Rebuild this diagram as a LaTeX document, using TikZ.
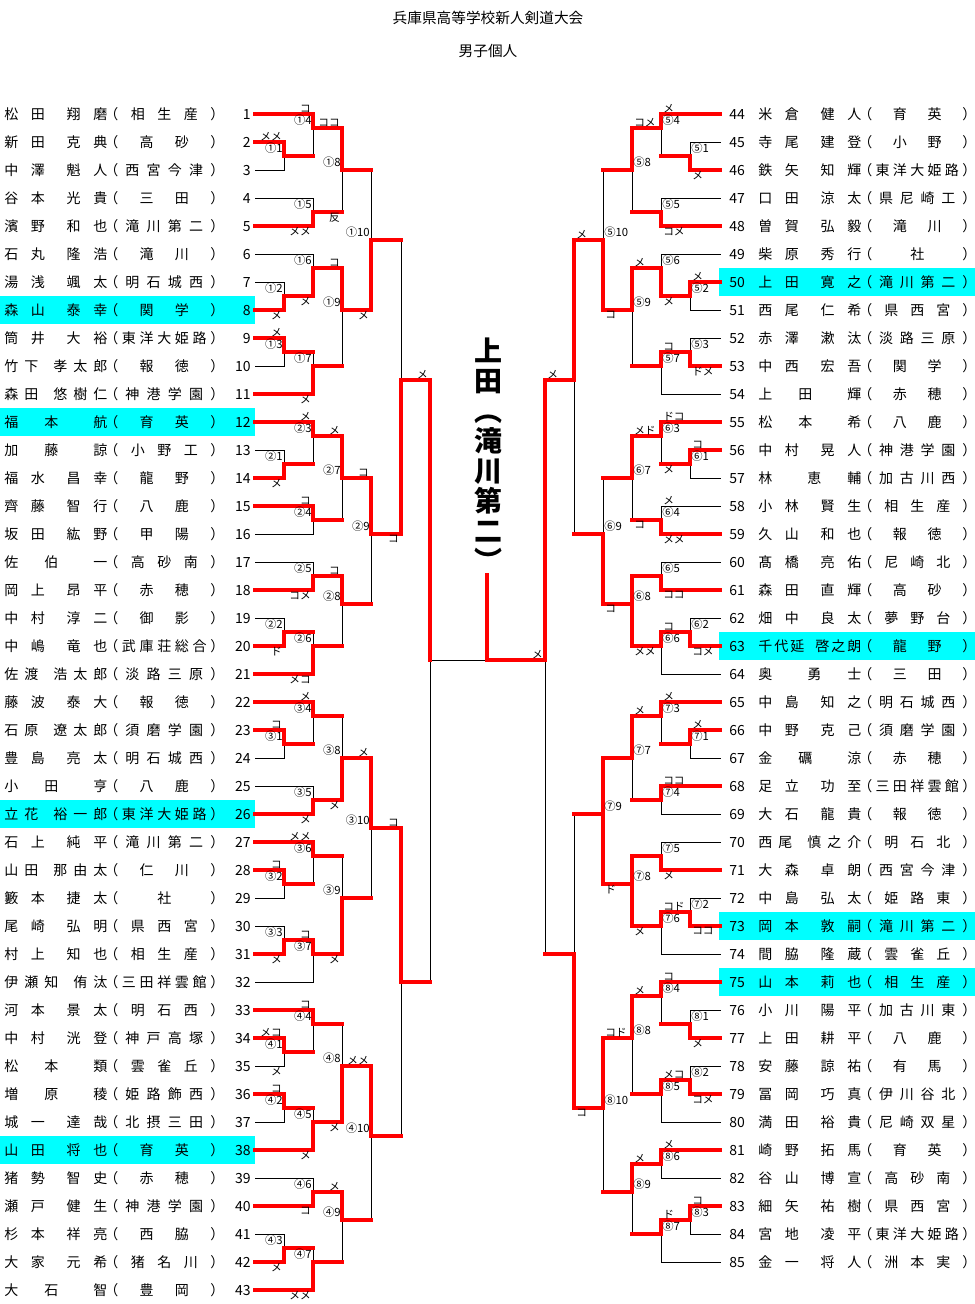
\documentclass[tikz,border=0pt]{standalone}
\usepackage{fontspec}
\setmainfont{Noto Sans CJK JP}
\definecolor{hl}{RGB}{0,255,255}
\definecolor{rd}{RGB}{255,0,0}
\newdimen\PX \PX=0.75pt
\newcount\nc
\def\schw{92}
\def\spr#1{\sprA#1\relax}
\def\sprA#1{#1\sprB}
\def\sprB#1{\ifx\relax#1\else\hfill#1\expandafter\sprB\fi}
\newcommand\namebox[2]{\makebox[103\PX][s]{\spr{#1}\hfill\hspace*{9\PX}\spr{#2}}}
\newcommand\schoolbox[1]{\kern-3\PX\makebox[14\PX][l]{（}\makebox[\schw\PX][s]{\hfill\spr{#1}\hfill}\makebox[6\PX][l]{）}}
\tikzset{
  nm/.style={font=\fontsize{10.5}{12}\selectfont, inner sep=0pt},
  num/.style={font=\fontsize{8.5}{9}\selectfont, inner sep=0pt},
  sc/.style={font=\fontsize{8}{8}\selectfont, inner sep=0pt},
  lk/.style={black, line width=0.75pt, line cap=rect},
  lr/.style={rd, line width=3pt, line cap=rect},
}
\newcommand\nn{\global\advance\nc by 1 }
\newcommand\pL[4]{%
  \node[nm,anchor=base west] (p#1) at (4,{114+28*(#1-1)+5}) {\namebox{#2}{#3}\schoolbox{#4}};
  \node[nm,anchor=base east] (q#1) at (251,{114+28*(#1-1)+5}) {#1};}
\newcommand\pR[4]{%
  \node[nm,anchor=base west] (p#1) at (758,{114+28*(#1-44)+5}) {\def\schw{90}\namebox{#2}{#3}\schoolbox{#4}};
  \node[nm,anchor=base west] (q#1) at (729,{114+28*(#1-44)+5}) {#1};}
\newcommand\Ln[3]{\nn\node[num,anchor=east] (lb\the\nc) at ({#1-1},{#2-8}) {#3};}
\newcommand\Lt[3]{\nn\node[sc,anchor=south east] (lb\the\nc) at ({#1-2},{#2-1}) {#3};}
\newcommand\Lb[3]{\nn\node[sc,anchor=north east] (lb\the\nc) at ({#1-2},{#2+1}) {#3};}
\newcommand\Rn[3]{\nn\node[num,anchor=west] (lb\the\nc) at ({#1+1},{#2-8}) {#3};}
\newcommand\Rt[3]{\nn\node[sc,anchor=south west] (lb\the\nc) at ({#1+2},{#2-1}) {#3};}
\newcommand\Rb[3]{\nn\node[sc,anchor=north west] (lb\the\nc) at ({#1+2},{#2+1}) {#3};}
\newcommand\seg[3]{\if#1\pass\draw[l#1] #2 -- #3;\fi}
\newcommand\M[9]{%
  \seg{#3}{(#1,#2)}{(#7,#2)}%
  \seg{#6}{(#4,#5)}{(#7,#5)}%
  \if#9t\seg{r}{(#7,#2)}{(#7,#8)}\seg{k}{(#7,#8)}{(#7,#5)}\fi
  \if#9b\seg{k}{(#7,#2)}{(#7,#8)}\seg{r}{(#7,#8)}{(#7,#5)}\fi
  \if#9a\seg{r}{(#7,#2)}{(#7,#5)}\fi}
\newcommand\bracket{%
  % block 1
  \M{255}{142}{r}{255}{170}{k}{284}{156}{t}
  \M{255}{114}{r}{284}{156}{r}{313}{128}{t}
  \M{255}{198}{k}{255}{226}{r}{313}{212}{b}
  \M{313}{128}{r}{313}{212}{r}{342}{170}{t}
  \M{255}{282}{k}{255}{310}{r}{284}{296}{b}
  \M{255}{254}{k}{284}{296}{r}{313}{268}{b}
  \M{255}{338}{r}{255}{366}{k}{284}{352}{t}
  \M{284}{352}{r}{255}{394}{r}{313}{366}{b}
  \M{313}{268}{r}{313}{366}{r}{342}{310}{t}
  \M{342}{170}{r}{342}{310}{r}{371}{240}{b}
  % block 2
  \M{255}{450}{k}{255}{478}{r}{284}{464}{b}
  \M{255}{422}{r}{284}{464}{r}{313}{436}{t}
  \M{255}{506}{r}{255}{534}{k}{313}{520}{t}
  \M{313}{436}{r}{313}{520}{r}{342}{478}{t}
  \M{255}{562}{k}{255}{590}{r}{313}{576}{b}
  \M{255}{618}{k}{255}{646}{r}{284}{632}{b}
  \M{284}{632}{r}{255}{674}{r}{313}{646}{b}
  \M{313}{576}{r}{313}{646}{r}{342}{604}{t}
  \M{342}{478}{r}{342}{604}{r}{371}{534}{t}
  % block 3
  \M{255}{730}{r}{255}{758}{k}{284}{744}{t}
  \M{255}{702}{r}{284}{744}{r}{313}{716}{t}
  \M{255}{786}{k}{255}{814}{r}{313}{800}{b}
  \M{313}{716}{r}{313}{800}{r}{342}{758}{b}
  \M{255}{870}{r}{255}{898}{k}{284}{884}{t}
  \M{255}{842}{r}{284}{884}{r}{313}{856}{t}
  \M{255}{926}{k}{255}{954}{r}{284}{940}{b}
  \M{284}{940}{r}{255}{982}{k}{313}{954}{t}
  \M{313}{856}{r}{313}{954}{r}{342}{898}{b}
  \M{342}{758}{r}{342}{898}{r}{371}{828}{t}
  % block 4
  \M{255}{1038}{r}{255}{1066}{k}{284}{1052}{t}
  \M{255}{1010}{r}{284}{1052}{r}{313}{1024}{t}
  \M{255}{1094}{r}{255}{1122}{k}{284}{1108}{t}
  \M{284}{1108}{r}{255}{1150}{r}{313}{1122}{b}
  \M{313}{1024}{r}{313}{1122}{r}{342}{1066}{b}
  \M{255}{1178}{k}{255}{1206}{r}{313}{1192}{b}
  \M{255}{1234}{k}{255}{1262}{r}{284}{1248}{b}
  \M{284}{1248}{r}{255}{1290}{r}{313}{1262}{b}
  \M{313}{1192}{r}{313}{1262}{r}{342}{1220}{t}
  \M{342}{1066}{r}{342}{1220}{r}{371}{1136}{t}
  % left semis and final half
  \M{371}{240}{r}{371}{534}{r}{401}{380}{b}
  \M{371}{828}{r}{371}{1136}{r}{401}{982}{t}
  \M{401}{380}{r}{401}{982}{r}{430}{660}{t}
  % block 5
  \M{720}{142}{k}{720}{170}{r}{690}{156}{b}
  \M{720}{114}{r}{690}{156}{r}{661}{128}{t}
  \M{720}{198}{k}{720}{226}{r}{661}{212}{b}
  \M{661}{128}{r}{661}{212}{r}{632}{170}{t}
  \M{720}{282}{r}{720}{310}{k}{690}{296}{t}
  \M{720}{254}{k}{690}{296}{r}{661}{268}{b}
  \M{720}{338}{k}{720}{366}{r}{690}{352}{b}
  \M{690}{352}{r}{720}{394}{k}{661}{366}{t}
  \M{661}{268}{r}{661}{366}{r}{632}{310}{t}
  \M{632}{170}{r}{632}{310}{r}{603}{240}{b}
  % block 6
  \M{720}{450}{r}{720}{478}{k}{690}{464}{t}
  \M{720}{422}{r}{690}{464}{r}{661}{436}{t}
  \M{720}{506}{k}{720}{534}{r}{661}{520}{b}
  \M{661}{436}{r}{661}{520}{r}{632}{478}{t}
  \M{720}{562}{k}{720}{590}{r}{661}{576}{b}
  \M{720}{618}{k}{720}{646}{r}{690}{632}{b}
  \M{690}{632}{r}{720}{674}{k}{661}{646}{t}
  \M{661}{576}{r}{661}{646}{r}{632}{604}{a}
  \M{632}{478}{r}{632}{604}{r}{603}{534}{b}
  % block 7
  \M{720}{730}{r}{720}{758}{k}{690}{744}{t}
  \M{720}{702}{r}{690}{744}{r}{661}{716}{t}
  \M{720}{786}{r}{720}{814}{k}{661}{800}{t}
  \M{661}{716}{r}{661}{800}{r}{632}{758}{t}
  \M{720}{842}{k}{720}{870}{r}{661}{856}{b}
  \M{720}{898}{k}{720}{926}{r}{690}{912}{b}
  \M{690}{912}{r}{720}{954}{k}{661}{926}{t}
  \M{661}{856}{r}{661}{926}{r}{632}{884}{a}
  \M{632}{758}{r}{632}{884}{r}{603}{814}{a}
  % block 8
  \M{720}{1010}{k}{720}{1038}{r}{690}{1024}{b}
  \M{720}{982}{r}{690}{1024}{r}{661}{996}{t}
  \M{720}{1066}{k}{720}{1094}{r}{690}{1080}{b}
  \M{690}{1080}{r}{720}{1122}{k}{661}{1094}{t}
  \M{661}{996}{r}{661}{1094}{r}{632}{1038}{t}
  \M{720}{1150}{r}{720}{1178}{k}{661}{1164}{t}
  \M{720}{1206}{r}{720}{1234}{k}{690}{1220}{t}
  \M{690}{1220}{r}{720}{1262}{k}{661}{1234}{t}
  \M{661}{1164}{r}{661}{1234}{r}{632}{1192}{t}
  \M{632}{1038}{r}{632}{1192}{r}{603}{1108}{t}
  % right semis and final half
  \M{603}{240}{r}{603}{534}{r}{574}{380}{t}
  \M{603}{814}{r}{603}{1108}{r}{574}{954}{b}
  \M{574}{380}{r}{574}{954}{r}{545}{660}{t}
  % centre
  \seg{k}{(430,660)}{(487,660)}
  \if r\pass\draw[lr] (545,660) -- (487,660) -- (487,575);\fi
}
\begin{document}
\begin{tikzpicture}[x=0.75pt,y=-0.75pt]
\useasboundingbox (0,0) rectangle (975,1304);
\fill[white] (0,0) rectangle (975,1304);
% highlights
\foreach \i in {8,12,26,38} \fill[hl] (0,{114+28*(\i-1)-14}) rectangle (255,{114+28*(\i-1)+14});
\foreach \i in {50,63,73,75} \fill[hl] (719,{114+28*(\i-44)-14}) rectangle (975,{114+28*(\i-44)+14});
% titles
\node[font=\fontsize{11}{13}\selectfont, inner sep=0pt] (title) at (488,18) {兵庫県高等学校新人剣道大会};
\node[font=\fontsize{11}{13}\selectfont, inner sep=0pt] (sub) at (488,51) {男子個人};
\node[font=\bfseries\fontsize{21}{22.5}\selectfont, anchor=north, align=center, inner sep=0pt] (champ) at (488,338) {上\\田\\︵\\滝\\川\\第\\二\\︶};
% bracket lines
\def\pass{k}\bracket
\def\pass{r}\bracket
% players left
\pL{1}{松田}{翔磨}{相生産}
\pL{2}{新田}{克典}{高砂}
\pL{3}{中澤}{魁人}{西宮今津}
\pL{4}{谷本}{光貴}{三田}
\pL{5}{濱野}{和也}{滝川第二}
\pL{6}{石丸}{隆浩}{滝川}
\pL{7}{湯浅}{颯太}{明石城西}
\pL{8}{森山}{泰幸}{関学}
\pL{9}{筒井}{大裕}{東洋大姫路}
\pL{10}{竹下}{孝太郎}{報徳}
\pL{11}{森田}{悠樹仁}{神港学園}
\pL{12}{福本}{航}{育英}
\pL{13}{加藤}{諒}{小野工}
\pL{14}{福水}{昌幸}{龍野}
\pL{15}{齊藤}{智行}{八鹿}
\pL{16}{坂田}{紘野}{甲陽}
\pL{17}{佐伯}{一}{高砂南}
\pL{18}{岡上}{昂平}{赤穂}
\pL{19}{中村}{淳二}{御影}
\pL{20}{中嶋}{竜也}{武庫荘総合}
\pL{21}{佐渡}{浩太郎}{淡路三原}
\pL{22}{藤波}{泰大}{報徳}
\pL{23}{石原}{遼太郎}{須磨学園}
\pL{24}{豊島}{亮太}{明石城西}
\pL{25}{小田}{亨}{八鹿}
\pL{26}{立花}{裕一郎}{東洋大姫路}
\pL{27}{石上}{純平}{滝川第二}
\pL{28}{山田}{那由太}{仁川}
\pL{29}{籔本}{捷太}{社}
\pL{30}{尾崎}{弘明}{県西宮}
\pL{31}{村上}{知也}{相生産}
\pL{32}{伊瀬知}{侑汰}{三田祥雲館}
\pL{33}{河本}{景太}{明石西}
\pL{34}{中村}{洸登}{神戸高塚}
\pL{35}{松本}{類}{雲雀丘}
\pL{36}{増原}{稜}{姫路飾西}
\pL{37}{城一}{達哉}{北摂三田}
\pL{38}{山田}{将也}{育英}
\pL{39}{猪勢}{智史}{赤穂}
\pL{40}{瀬戸}{健生}{神港学園}
\pL{41}{杉本}{祥亮}{西脇}
\pL{42}{大家}{元希}{猪名川}
\pL{43}{大石}{智}{豊岡}
% players right
\pR{44}{米倉}{健人}{育英}
\pR{45}{寺尾}{建登}{小野}
\pR{46}{鉄矢}{知輝}{東洋大姫路}
\pR{47}{口田}{涼太}{県尼崎工}
\pR{48}{曽賀}{弘毅}{滝川}
\pR{49}{柴原}{秀行}{社}
\pR{50}{上田}{寛之}{滝川第二}
\pR{51}{西尾}{仁希}{県西宮}
\pR{52}{赤澤}{漱汰}{淡路三原}
\pR{53}{中西}{宏吾}{関学}
\pR{54}{上田}{輝}{赤穂}
\pR{55}{松本}{希}{八鹿}
\pR{56}{中村}{晃人}{神港学園}
\pR{57}{林}{恵輔}{加古川西}
\pR{58}{小林}{賢生}{相生産}
\pR{59}{久山}{和也}{報徳}
\pR{60}{髙橋}{亮佑}{尼崎北}
\pR{61}{森田}{直輝}{高砂}
\pR{62}{畑中}{良太}{夢野台}
\pR{63}{千代延}{啓之朗}{龍野}
\pR{64}{奥}{勇士}{三田}
\pR{65}{中島}{知之}{明石城西}
\pR{66}{中野}{克己}{須磨学園}
\pR{67}{金礪}{涼}{赤穂}
\pR{68}{足立}{功至}{三田祥雲館}
\pR{69}{大石}{龍貴}{報徳}
\pR{70}{西尾}{慎之介}{明石北}
\pR{71}{大森}{卓朗}{西宮今津}
\pR{72}{中島}{弘太}{姫路東}
\pR{73}{岡本}{敦嗣}{滝川第二}
\pR{74}{間脇}{隆蔵}{雲雀丘}
\pR{75}{山本}{莉也}{相生産}
\pR{76}{小川}{陽平}{加古川東}
\pR{77}{上田}{耕平}{八鹿}
\pR{78}{安藤}{諒祐}{有馬}
\pR{79}{冨岡}{巧真}{伊川谷北}
\pR{80}{満田}{裕貴}{尼崎双星}
\pR{81}{崎野}{拓馬}{育英}
\pR{82}{谷山}{博宣}{高砂南}
\pR{83}{細矢}{祐樹}{県西宮}
\pR{84}{宮地}{凌平}{東洋大姫路}
\pR{85}{金一}{将人}{洲本実}
% labels left
\Ln{284}{156}{①1}\Lt{284}{142}{メメ}
\Ln{313}{128}{①4}\Lt{313}{114}{コ}
\Ln{313}{212}{①5}\Lb{313}{226}{メメ}
\Ln{342}{170}{①8}\Lt{342}{128}{ココ}\Lb{342}{212}{反}
\Ln{284}{296}{①2}\Lb{284}{310}{メ}
\Ln{313}{268}{①6}\Lb{313}{296}{メ}
\Ln{284}{352}{①3}\Lt{284}{338}{メ}
\Ln{313}{366}{①7}\Lb{313}{394}{メ}
\Ln{342}{310}{①9}\Lt{342}{268}{コ}
\Ln{371}{240}{①10}\Lb{371}{310}{メ}
\Ln{284}{464}{②1}\Lb{284}{478}{メ}
\Ln{313}{436}{②3}\Lt{313}{422}{メ}
\Ln{313}{520}{②4}\Lt{313}{506}{コ}
\Ln{342}{478}{②7}\Lt{342}{436}{メ}
\Ln{313}{576}{②5}\Lb{313}{590}{コメ}
\Ln{284}{632}{②2}\Lb{284}{646}{ド}
\Ln{313}{646}{②6}\Lb{313}{674}{メコ}
\Ln{342}{604}{②8}\Lt{342}{576}{コ}
\Ln{371}{534}{②9}\Lt{371}{478}{コ}
\Lb{401}{534}{コ}
\Lt{430}{380}{メ}
\Ln{284}{744}{③1}\Lt{284}{730}{コ}
\Ln{313}{716}{③4}\Lt{313}{702}{メ}
\Ln{313}{800}{③5}\Lb{313}{814}{メ}
\Ln{342}{758}{③8}\Lb{342}{800}{メ}
\Ln{284}{884}{③2}\Lt{284}{870}{コ}
\Ln{313}{856}{③6}\Lt{313}{842}{メメ}
\Ln{284}{940}{③3}\Lb{284}{954}{メ}
\Ln{313}{954}{③7}\Lt{313}{940}{コ}
\Ln{342}{898}{③9}\Lb{342}{954}{メ}
\Ln{371}{828}{③10}\Lt{371}{758}{メ}
\Lt{401}{828}{コ}
\Ln{284}{1052}{④1}\Lt{284}{1038}{メコ}\Lb{284}{1066}{メ}
\Ln{313}{1024}{④4}\Lt{313}{1010}{コ}
\Ln{284}{1108}{④2}\Lt{284}{1094}{コ}
\Ln{313}{1122}{④5}\Lb{313}{1150}{メ}
\Ln{342}{1066}{④8}\Lb{342}{1122}{メ}
\Ln{313}{1192}{④6}\Lb{313}{1206}{コ}
\Ln{284}{1248}{④3}\Lb{284}{1262}{メ}
\Ln{313}{1262}{④7}\Lb{313}{1290}{メメ}
\Ln{342}{1220}{④9}\Lt{342}{1192}{メ}
\Ln{371}{1136}{④10}\Lt{371}{1066}{メメ}
% labels right
\Rn{690}{156}{⑤1}\Rb{690}{170}{メ}
\Rn{661}{128}{⑤4}\Rt{661}{114}{メ}
\Rn{661}{212}{⑤5}\Rb{661}{226}{コメ}
\Rn{632}{170}{⑤8}\Rt{632}{128}{コメ}
\Rn{690}{296}{⑤2}\Rt{690}{282}{メ}
\Rn{661}{268}{⑤6}\Rb{661}{296}{メ}
\Rn{690}{352}{⑤3}\Rb{690}{366}{ドメ}
\Rn{661}{366}{⑤7}\Rt{661}{352}{コ}
\Rn{632}{310}{⑤9}\Rt{632}{268}{メ}
\Rn{603}{240}{⑤10}\Rb{603}{310}{コ}
\Rt{574}{240}{メ}
\Rt{545}{380}{メ}
\Rn{690}{464}{⑥1}\Rt{690}{450}{コ}
\Rn{661}{436}{⑥3}\Rt{661}{422}{ドコ}\Rb{661}{464}{メ}
\Rn{661}{520}{⑥4}\Rt{661}{506}{メ}\Rb{661}{534}{メメ}
\Rn{632}{478}{⑥7}\Rt{632}{436}{メド}\Rb{632}{520}{コ}
\Rn{661}{576}{⑥5}\Rb{661}{590}{ココ}
\Rn{690}{632}{⑥2}\Rb{690}{646}{コメ}
\Rn{661}{646}{⑥6}\Rt{661}{632}{コ}
\Rn{632}{604}{⑥8}\Rb{632}{646}{メメ}
\Rn{603}{534}{⑥9}\Rb{603}{604}{コ}
\Rn{690}{744}{⑦1}\Rt{690}{730}{メ}
\Rn{661}{716}{⑦3}\Rt{661}{702}{メ}
\Rn{661}{800}{⑦4}\Rt{661}{786}{ココ}
\Rn{632}{758}{⑦7}\Rt{632}{716}{メ}
\Rn{661}{856}{⑦5}\Rb{661}{870}{メ}
\Rn{690}{912}{⑦2}\Rb{690}{926}{ココ}
\Rn{661}{926}{⑦6}\Rt{661}{912}{コド}
\Rn{632}{884}{⑦8}\Rb{632}{926}{メ}
\Rn{603}{814}{⑦9}\Rb{603}{884}{ド}
\Rb{574}{1108}{コ}
\Rn{690}{1024}{⑧1}\Rb{690}{1038}{メ}
\Rn{661}{996}{⑧4}\Rt{661}{982}{コ}
\Rn{690}{1080}{⑧2}\Rb{690}{1094}{コメ}
\Rn{661}{1094}{⑧5}\Rt{661}{1080}{メコ}
\Rn{632}{1038}{⑧8}\Rt{632}{996}{メ}
\Rn{661}{1164}{⑧6}\Rt{661}{1150}{メ}
\Rn{690}{1220}{⑧3}\Rt{690}{1206}{コ}
\Rn{661}{1234}{⑧7}\Rt{661}{1220}{ド}
\Rn{632}{1192}{⑧9}\Rt{632}{1164}{メ}
\Rn{603}{1108}{⑧10}\Rt{603}{1038}{コド}
\Lt{545}{660}{メ}
\end{tikzpicture}
\end{document}
